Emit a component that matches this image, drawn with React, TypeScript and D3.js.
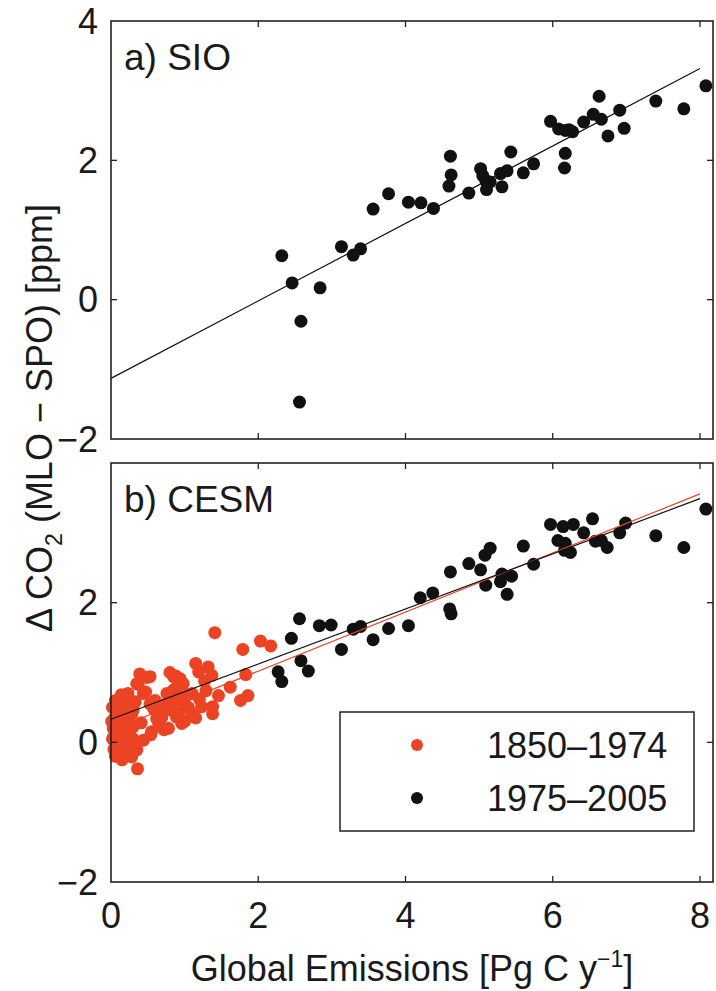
import React from "react";
import * as d3 from "d3";

// ---- Data ----
// Panel a) SIO observations
const sioX = [2.32, 2.46, 2.84, 2.58, 2.56, 3.13, 3.29, 3.39, 3.56, 3.77, 4.04, 4.21, 4.38, 4.61, 4.62, 4.59, 4.86, 5.02, 5.09, 5.10, 5.15, 5.31, 5.29, 5.38, 5.43, 5.60, 5.74, 5.97, 6.08, 6.17, 6.27, 6.17, 6.16, 6.42, 6.55, 6.63, 6.66, 6.75, 6.91, 6.97, 7.40, 7.78, 8.08, 6.22, 5.05];
const sioY = [0.63, 0.24, 0.17, -0.31, -1.47, 0.76, 0.64, 0.73, 1.30, 1.52, 1.40, 1.39, 1.31, 2.06, 1.79, 1.63, 1.53, 1.88, 1.71, 1.58, 1.69, 1.62, 1.81, 1.85, 2.12, 1.82, 1.95, 2.56, 2.45, 2.43, 2.41, 2.10, 1.89, 2.55, 2.66, 2.92, 2.59, 2.35, 2.72, 2.46, 2.85, 2.74, 3.07, 2.44, 1.78];

// Panel b) CESM, 1975–2005 (black)
const cesmLateX = [2.27, 2.32, 2.45, 2.56, 2.58, 2.68, 2.83, 2.99, 3.13, 3.29, 3.39, 3.56, 3.77, 4.04, 4.20, 4.37, 4.60, 4.62, 4.61, 4.86, 5.02, 5.08, 5.15, 5.09, 5.29, 5.31, 5.38, 5.44, 5.60, 5.74, 5.97, 6.14, 6.28, 6.07, 6.17, 6.16, 6.24, 6.42, 6.54, 6.58, 6.66, 6.74, 6.91, 6.99, 7.40, 7.78, 8.08];
const cesmLateY = [1.01, 0.87, 1.49, 1.77, 1.17, 1.02, 1.67, 1.68, 1.33, 1.62, 1.66, 1.47, 1.63, 1.67, 2.07, 2.14, 1.91, 1.84, 2.44, 2.56, 2.47, 2.68, 2.78, 2.25, 2.30, 2.41, 2.12, 2.38, 2.81, 2.55, 3.12, 3.09, 3.12, 2.89, 2.85, 2.75, 2.72, 3.00, 3.20, 2.88, 2.89, 2.79, 3.00, 3.14, 2.96, 2.79, 3.34];

// Panel b) CESM, 1850–1974 (red)
const cesmEarlyX = [
  1.41, 1.79, 2.03, 2.17, 1.83, 1.86, 1.76, 1.62, 1.46, 1.38, 1.38, 1.32, 1.37, 1.15, 1.19, 1.29, 1.23, 1.10, 1.10, 0.98,
  0.94, 0.85, 0.80, 0.89, 0.82, 0.96, 0.78, 0.89, 0.71, 0.69, 0.62, 0.76, 0.53, 0.39, 0.35, 0.44, 0.53, 0.60, 0.55, 0.44,
  0.35, 0.28, 0.36, 0.30, 0.30, 0.85, 0.90, 0.95, 1.00, 1.05, 0.75, 0.70, 0.65, 1.00, 0.92, 1.15, 1.20, 0.88, 0.80, 0.49,
  0.37, 0.54, 0.34, 0.02, 0.03, 0.04, 0.05, 0.05, 0.06, 0.07, 0.08, 0.08, 0.09, 0.10, 0.10, 0.11, 0.12, 0.12, 0.13, 0.14,
  0.15, 0.15, 0.16, 0.17, 0.18, 0.18, 0.19, 0.20, 0.21, 0.22, 0.23, 0.24, 0.25, 0.26, 0.27, 0.28, 0.30, 0.01, 0.02, 0.06,
  0.11, 0.14, 0.19, 0.22, 0.33, 0.41, 0.47, 0.58, 0.67, 1.27, 1.04, 0.72
];
const cesmEarlyY = [
  1.57, 1.33, 1.45, 1.38, 0.97, 0.67, 0.60, 0.79, 0.67, 0.41, 0.51, 1.08, 0.96, 1.13, 1.01, 0.74, 0.51, 0.41, 0.70, 0.84,
  0.91, 0.94, 0.70, 0.60, 0.46, 0.27, 0.20, 0.36, 0.51, 0.36, 0.34, 0.70, 0.94, 0.98, 0.84, 0.70, 0.55, 0.60, 0.15, 0.03,
  -0.11, -0.21, -0.38, 0.46, 0.22, 0.75, 0.80, 0.65, 0.55, 0.50, 0.55, 0.45, 0.25, 0.30, 0.42, 0.35, 0.62, 0.95, 1.00, 0.93,
  0.83, 0.11, 0.01, 0.05, 0.20, -0.10, 0.35, 0.10, -0.20, 0.45, 0.00, 0.25, 0.60, -0.15, 0.15, 0.40, -0.05, 0.30, 0.55, 0.10,
  -0.25, 0.20, 0.45, 0.05, 0.35, 0.65, -0.10, 0.25, 0.50, 0.10, 0.70, 0.30, -0.05, 0.55, 0.20, 0.40, 0.05, 0.30, 0.50, 0.60,
  -0.02, 0.68, 0.15, 0.42, 0.58, 0.28, 0.72, 0.48, 0.38, 0.88, 0.68, 0.18
];

// Fit lines: [intercept, slope]
const sioFit = [-1.13, 0.556];
const cesmLateFit = [0.33, 0.395];
const cesmEarlyFit = [0.174, 0.423];
const fitRange = [0, 8];

const xTicks = [0, 2, 4, 6, 8];
const yTicksTop = [-2, 0, 2, 4];
const yTicksBottom = [-2, 0, 2];
const legendLabels = ["1850\u20131974", "1975\u20132005"];

const RED = "#ec4324";
const BLACK = "#111111";
const FONT = "'Liberation Sans', Arial, Helvetica, sans-serif";

const left = 111, right = 713;
const topPanel = { top: 21, bottom: 439 };
const botPanel = { top: 463, bottom: 882 };

const x = d3.scaleLinear().domain([0, 8]).range([left, 700]);
const xDomainMax = x.invert(right);

function Panel({ box, yTicks, showXLabels, children }: any) {
  const y = d3.scaleLinear().domain([-2, 4]).range([box.bottom, box.top]);
  const tl = 6;
  return (
    <g>
      {children(y)}
      <rect x={left} y={box.top} width={right - left} height={box.bottom - box.top} fill="none" stroke="#222" strokeWidth={1.6} />
      {xTicks.map((t) => (
        <g key={"xt" + t}>
          {t > 0 && t < xDomainMax && (
            <>
              <line x1={x(t)} x2={x(t)} y1={box.bottom} y2={box.bottom - tl} stroke="#222" strokeWidth={1.3} />
              <line x1={x(t)} x2={x(t)} y1={box.top} y2={box.top + tl} stroke="#222" strokeWidth={1.3} />
            </>
          )}
          {showXLabels && (
            <text x={x(t)} y={box.bottom + 46} textAnchor="middle" fontSize={36} fontFamily={FONT} fill="#1a1a1a">
              {t}
            </text>
          )}
        </g>
      ))}
      {yTicks.map((t: number) => (
        <g key={"yt" + t}>
          {t > -2 && t < 4 && (
            <>
              <line x1={left} x2={left + tl} y1={y(t)} y2={y(t)} stroke="#222" strokeWidth={1.3} />
              <line x1={right} x2={right - tl} y1={y(t)} y2={y(t)} stroke="#222" strokeWidth={1.3} />
            </>
          )}
          <text x={98} y={y(t) + 12.5} textAnchor="end" fontSize={36} fontFamily={FONT} fill="#1a1a1a">
            {t < 0 ? "\u2212" + Math.abs(t) : String(t)}
          </text>
        </g>
      ))}
    </g>
  );
}

function fitLine(fit: number[], y: any) {
  const line = d3.line<number>().x((d) => x(d)).y((d) => y(fit[0] + fit[1] * d));
  return line(fitRange) || "";
}

export default function App() {
  const r = 6.5;
  return (
    <svg width={716} height={991} style={{ position: "absolute", left: 0, top: 0, background: "#fff" }}>
      <rect width={716} height={991} fill="#fff" />
      <Panel box={topPanel} yTicks={yTicksTop} showXLabels={false}>
        {(y: any) => (
          <g>
            <path d={fitLine(sioFit, y)} stroke="#111" strokeWidth={1.2} fill="none" />
            {sioX.map((v, i) => (
              <circle key={i} cx={x(v)} cy={y(sioY[i])} r={r} fill={BLACK} />
            ))}
            <text x={124} y={70} fontSize={37} fontFamily={FONT} fill="#1a1a1a">a) SIO</text>
          </g>
        )}
      </Panel>
      <Panel box={botPanel} yTicks={yTicksBottom} showXLabels={true}>
        {(y: any) => (
          <g>
            {cesmEarlyX.map((v, i) => (
              <circle key={"e" + i} cx={x(v)} cy={y(cesmEarlyY[i])} r={r} fill={RED} />
            ))}
            {cesmLateX.map((v, i) => (
              <circle key={"l" + i} cx={x(v)} cy={y(cesmLateY[i])} r={r} fill={BLACK} />
            ))}
            <path d={fitLine(cesmEarlyFit, y)} stroke={RED} strokeWidth={1.2} fill="none" />
            <path d={fitLine(cesmLateFit, y)} stroke="#111" strokeWidth={1.2} fill="none" />
            <text x={124} y={512} fontSize={37} fontFamily={FONT} fill="#1a1a1a">b) CESM</text>
            <g>
              <rect x={340} y={712} width={354} height={119} fill="#fff" stroke="#222" strokeWidth={1.5} />
              {legendLabels.map((lab, i) => (
                <g key={lab}>
                  <circle cx={417} cy={745 + i * 53} r={6} fill={i === 0 ? RED : BLACK} />
                  <text x={487} y={758 + i * 53} fontSize={36} fontFamily={FONT} fill="#1a1a1a">{lab}</text>
                </g>
              ))}
            </g>
          </g>
        )}
      </Panel>
      <text x={(left + right) / 2} y={981} textAnchor="middle" fontSize={36} fontFamily={FONT} fill="#1a1a1a">
        Global Emissions [Pg C y
        <tspan fontSize={23} dy={-14}>{"\u22121"}</tspan>
        <tspan dy={14}>]</tspan>
      </text>
      <text transform="translate(52,418) rotate(-90)" textAnchor="middle" fontSize={36} fontFamily={FONT} fill="#1a1a1a">
        {"\u0394 CO"}
        <tspan fontSize={23} dy={10}>2</tspan>
        <tspan dy={-10}>{" (MLO \u2212 SPO) [ppm]"}</tspan>
      </text>
    </svg>
  );
}
